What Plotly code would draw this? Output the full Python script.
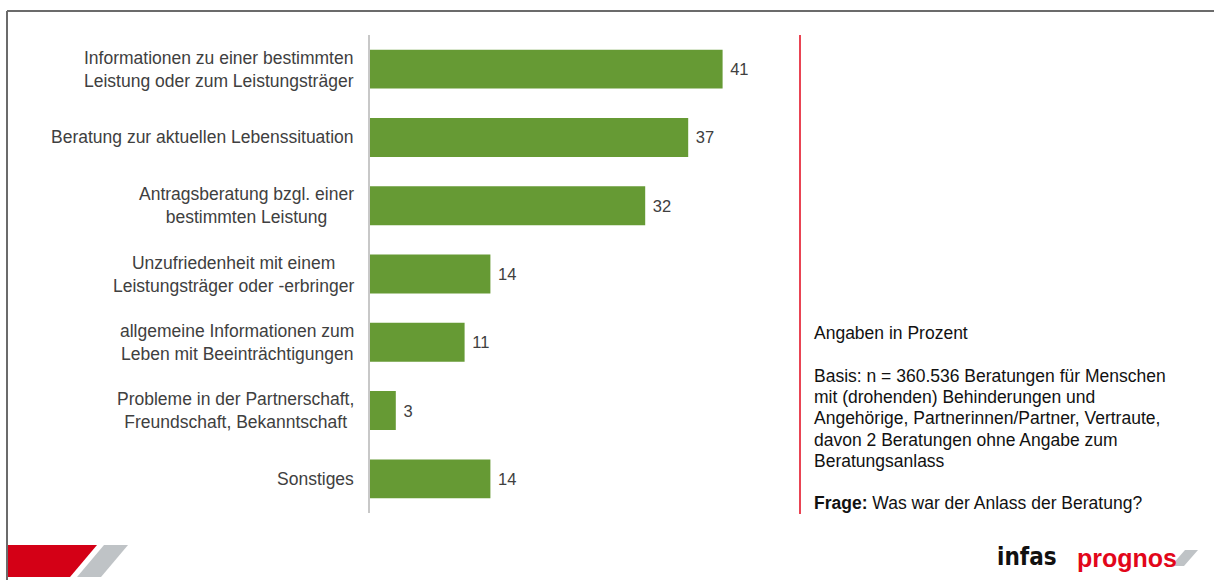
import plotly.graph_objects as go

# Anlass der Beratung, Angaben in Prozent
categories = [
    "Informationen zu einer bestimmten<br>Leistung oder zum Leistungsträger",
    "Beratung zur aktuellen Lebenssituation",
    "Antragsberatung bzgl. einer<br>bestimmten Leistung",
    "Unzufriedenheit mit einem<br>Leistungsträger oder -erbringer",
    "allgemeine Informationen zum<br>Leben mit Beeinträchtigungen",
    "Probleme in der Partnerschaft,<br>Freundschaft, Bekanntschaft",
    "Sonstiges",
]
values = [41, 37, 32, 14, 11, 3, 14]

note_lines = [
    "Angaben in Prozent",
    "",
    "Basis: n = 360.536 Beratungen für Menschen",
    "mit (drohenden) Behinderungen und",
    "Angehörige, Partnerinnen/Partner, Vertraute,",
    "davon 2 Beratungen ohne Angabe zum",
    "Beratungsanlass",
    "",
    "<b>Frage:</b> Was war der Anlass der Beratung?",
]

W, H = 1214, 580
L, R, T, B = 370, 414, 35, 67
pw, ph = W - L - R, H - T - B
LINE = 21.3  # Zeilenabstand in px


def px(x):
    return (x - L) / pw


def py(y):
    return (H - B - y) / ph


FONT = "Liberation Sans, Arial, sans-serif"

fig = go.Figure()
fig.add_trace(go.Bar(
    x=values,
    y=categories,
    orientation="h",
    marker=dict(color="#669a34", line=dict(width=0)),
    text=["\u00a0" + str(v) for v in values],
    textposition="outside",
    textfont=dict(size=16.5, color="#404040", family=FONT),
    cliponaxis=False,
    hoverinfo="skip",
))

annotations = []
# Kategorienbeschriftung: Block rechtsbündig, Zeilen zentriert
for c in categories:
    annotations.append(dict(
        x=0, xref="paper", y=c, yref="y",
        text=c, showarrow=False, xanchor="right", align="center",
        xshift=-14, font=dict(size=17.5, color="#404040", family=FONT),
    ))

# Hinweistext rechts
for i, line in enumerate(note_lines):
    if not line:
        continue
    annotations.append(dict(
        x=px(812), y=py(333 + i * LINE), xref="paper", yref="paper",
        text=line, showarrow=False, xanchor="left", yanchor="middle", align="left",
        font=dict(size=17.5, color="#111111", family=FONT),
    ))

# Logos unten rechts
annotations.append(dict(
    x=px(995), y=py(557), xref="paper", yref="paper", text="<b>infas</b>",
    showarrow=False, xanchor="left", yanchor="middle",
    font=dict(size=24, color="#111111",
              family="Liberation Sans Narrow, Arial Narrow, DejaVu Sans Condensed, sans-serif"),
))
annotations.append(dict(
    x=px(1075), y=py(558), xref="paper", yref="paper", text="<b>prognos</b>",
    showarrow=False, xanchor="left", yanchor="middle",
    font=dict(size=25, color="#e2061a", family=FONT),
))


def path(points):
    return "M " + " L ".join(f"{px(a)},{py(b)}" for a, b in points) + " Z"


shapes = [
    # rote Trennlinie
    dict(type="line", xref="paper", yref="paper", x0=1, x1=1, y0=py(514), y1=py(35),
         line=dict(color="#e2061a", width=1.5)),
    # Rahmen oben und links
    dict(type="line", xref="paper", yref="paper", x0=px(7), x1=px(1214), y0=py(11), y1=py(11),
         line=dict(color="#6b6b6b", width=2)),
    dict(type="line", xref="paper", yref="paper", x0=px(7), x1=px(7), y0=py(11), y1=py(580),
         line=dict(color="#6b6b6b", width=2)),
    # Balken-Logo unten links
    dict(type="path", xref="paper", yref="paper", line=dict(width=0), fillcolor="#d40016",
         path=path([(8, 545), (97, 545), (70, 577), (8, 577)])),
    dict(type="path", xref="paper", yref="paper", line=dict(width=0), fillcolor="#bfc3c6",
         path=path([(104, 545), (128, 545), (101, 577), (77, 577)])),
    # prognos-Strich
    dict(type="path", xref="paper", yref="paper", line=dict(width=0), fillcolor="#bfc3c6",
         path=path([(1185, 550), (1198, 550), (1184, 566), (1171, 566)])),
]

fig.update_layout(
    width=W, height=H,
    margin=dict(l=L, r=R, t=T, b=B),
    paper_bgcolor="white", plot_bgcolor="white",
    showlegend=False,
    bargap=0.43,
    xaxis=dict(range=[0, 50], visible=False, fixedrange=True),
    yaxis=dict(
        categoryorder="array", categoryarray=categories, autorange="reversed",
        showticklabels=False, ticks="", showgrid=False, zeroline=False,
        showline=True, linecolor="#c8c8c8", linewidth=1.5, fixedrange=True,
    ),
    annotations=annotations,
    shapes=shapes,
    font=dict(family=FONT),
)

fig.write_html(
    "out.html",
    config={"displayModeBar": False},
    post_script="document.body.style.margin='0';document.body.style.padding='0';",
)
